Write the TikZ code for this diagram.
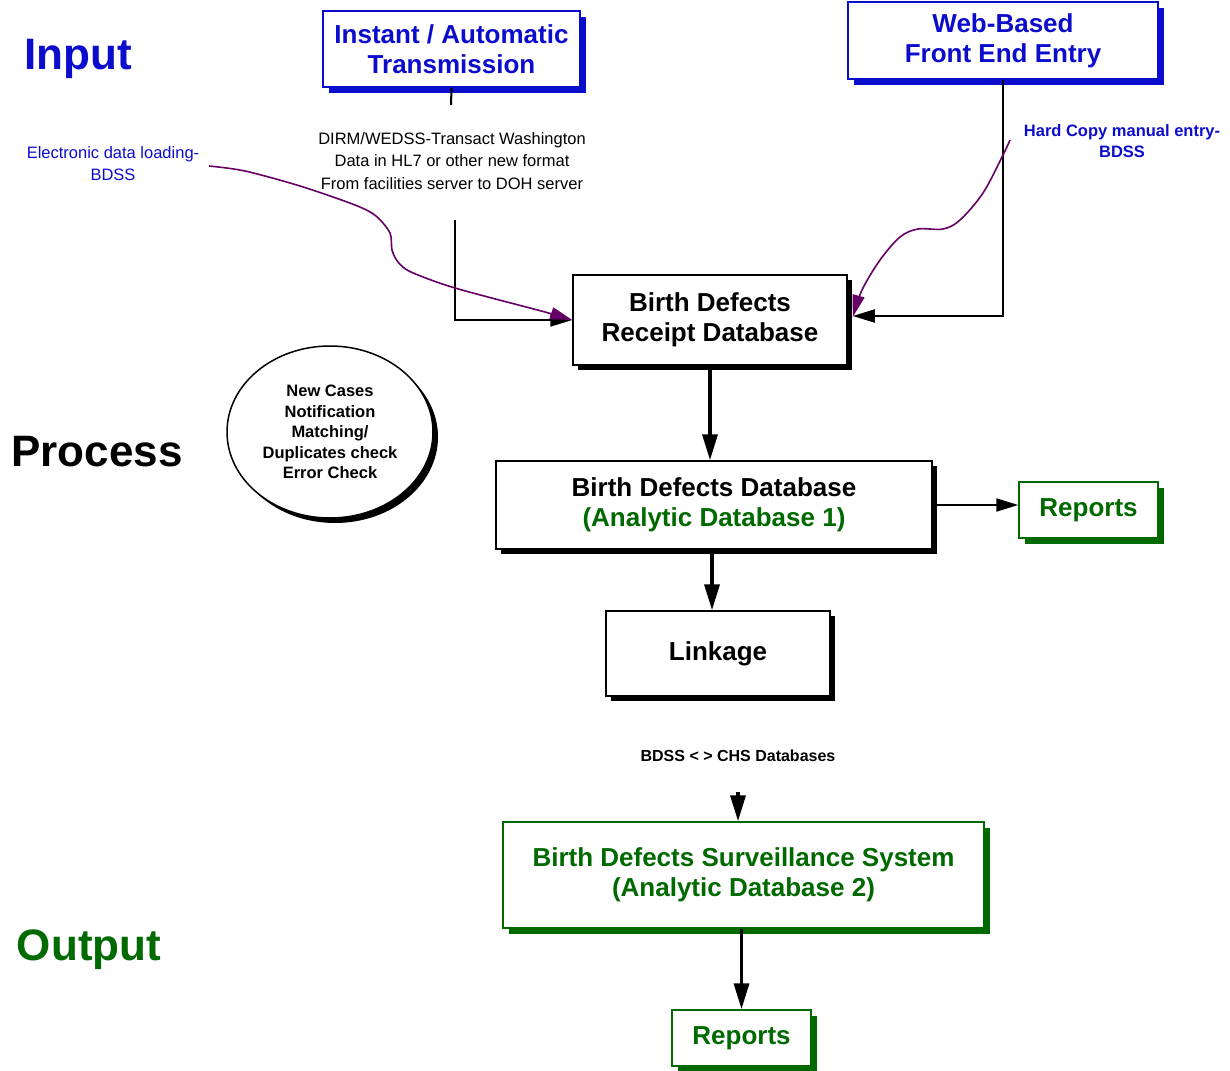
\documentclass[tikz,border=0pt]{standalone}
\usepackage{fontspec}
\setmainfont{Liberation Sans}
\usetikzlibrary{arrows.meta,shadows,calc,shapes.geometric}
\definecolor{myblue}{RGB}{12,12,205}
\definecolor{mygreen}{RGB}{0,105,0}
\definecolor{mypurple}{RGB}{102,0,102}
\begin{document}
\begin{tikzpicture}[x=1pt,y=-1pt,
  bigfont/.style={font=\fontsize{26}{30}\selectfont\bfseries},
  titlefont/.style={font=\fontsize{44}{50}\selectfont\bfseries},
  smallfont/.style={font=\fontsize{16.5}{22.5}\selectfont},
  boxbase/.style={draw, fill=white, align=center, inner sep=0pt, bigfont, line width=1.5pt},
  bluebox/.style={boxbase, draw=myblue, text=myblue, line width=2pt,
    drop shadow={shadow xshift=6pt, shadow yshift=-6pt, fill=myblue, opacity=1}},
  blackbox/.style={boxbase, draw=black, text=black,
    drop shadow={shadow xshift=5pt, shadow yshift=-5pt, fill=black, opacity=1}},
  greenbox/.style={boxbase, draw=mygreen, text=mygreen,
    drop shadow={shadow xshift=6pt, shadow yshift=-6pt, fill=mygreen, opacity=1}},
  thickarrow/.style={line width=3.5pt, -{Triangle[length=26pt,width=15pt]}},
  thinarrow/.style={line width=2pt, -{Triangle[length=22pt,width=13pt]}},
  thinline/.style={line width=2pt},
  purplearrow/.style={draw=mypurple, line width=1.6pt, -{Triangle[length=22pt,width=12pt]}, fill=none},
]
\useasboundingbox (0,0) rectangle (1230,1070);

% titles
\node[titlefont, text=myblue] (tinput) at (78,59) {Input};
\node[titlefont, text=black] (tprocess) at (97,452) {Process};
\node[titlefont, text=mygreen] (toutput) at (89,950) {Output};

% boxes
\node[bluebox, minimum width=257pt, minimum height=76pt] (inst) at (451.5,49) {Instant / Automatic\\Transmission};
\node[bluebox, minimum width=310pt, minimum height=77pt] (web) at (1003,40.5) {Web-Based\\Front End Entry};
\node[blackbox, minimum width=274pt, minimum height=90pt] (rec) at (710,320) {Birth Defects\\Receipt Database};
\node[blackbox, minimum width=436pt, minimum height=88pt] (db1) at (714,505) {Birth Defects Database\\\textcolor{mygreen}{(Analytic Database 1)}};
\node[greenbox, minimum width=139pt, minimum height=56pt] (rep1) at (1088.5,510) {Reports};
\node[blackbox, minimum width=224pt, minimum height=85pt] (link) at (718,653.5) {Linkage};
\node[greenbox, minimum width=481pt, minimum height=106pt] (db2) at (743.5,875) {Birth Defects Surveillance System\\(Analytic Database 2)};
\node[greenbox, minimum width=139pt, minimum height=56pt] (rep2) at (741.5,1038) {Reports};

% ellipse
\node[ellipse, draw, line width=1.5pt, fill=white, minimum width=206pt, minimum height=172pt, inner sep=0pt,
  align=center, font=\fontsize{16.5}{20.5}\selectfont\bfseries,
  drop shadow={shadow xshift=5pt, shadow yshift=-5pt, fill=black, opacity=1}] (chk) at (330,432)
  {New Cases\\Notification\\Matching/\\Duplicates check\\Error Check};

% texts
\node[smallfont, align=center] (dirm) at (452,161) {DIRM/WEDSS-Transact Washington\\Data in HL7 or other new format\\From facilities server to DOH server};
\node[smallfont, align=center, text=myblue] (elec) at (113,163.5) {Electronic data loading-\\BDSS};
\node[font=\fontsize{16.5}{21}\selectfont\bfseries, align=center, text=myblue] (hard) at (1122,141.5) {Hard Copy manual entry-\\BDSS};
\node[font=\fontsize{16}{20}\selectfont\bfseries] (bdss) at (738,756) {BDSS < > CHS Databases};

% coordinates
\coordinate (c0) at (451,105);
\coordinate (c1) at (455,220);
\coordinate (c2) at (738,792);
\coordinate (p1) at (209,166);
\coordinate (p2) at (1010,140);

% connectors
\draw[thinline] (inst.south) -- (c0);
\draw[thinarrow] (c1) |- (rec.west);
\draw[thinarrow] (web.south) |- ($(rec.east)+(5,-4)$);
\draw[thickarrow] (rec.south) -- (rec.south |- db1.north);
\draw[thinarrow] (db1.east) -- (db1.east -| rep1.west);
\draw[thickarrow] ($(db1.south)+(-2,0)$) -- ($(db1.south |- link.north)+(-2,0)$);
\draw[thickarrow] (c2) -- (c2 |- db2.north);
\draw[thickarrow] (rep2.north |- db2.south) -- (rep2.north);

% purple curves
\draw[purplearrow] plot[smooth, tension=0.5] coordinates {(p1) (245,171) (300,186) (355,205) (376,216) (390,233) (392,250) (398,262) (411,272) (455,288) (545,312) (rec.west)};
\draw[purplearrow] plot[smooth, tension=0.55] coordinates {(p2) (1003,155) (983,193) (960,220) (943,229) (918,229) (900,237) (880,260) (862,290) ($(rec.east)+(5,-3)$)};
\end{tikzpicture}
\end{document}
